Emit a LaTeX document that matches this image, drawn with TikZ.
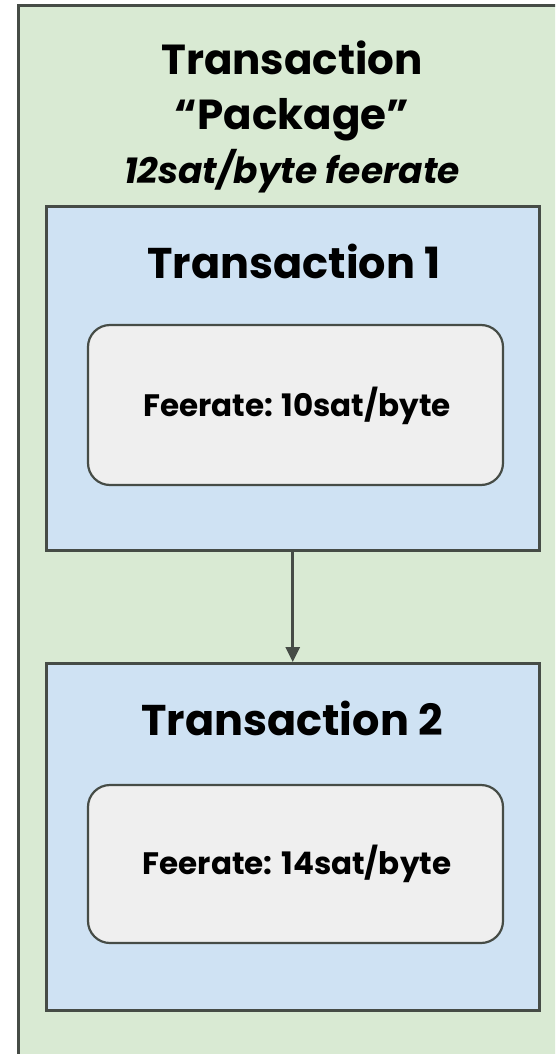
\documentclass[tikz,border=0pt]{standalone}
\usepackage{fontspec}
\setmainfont{Poppins}
\usetikzlibrary{arrows.meta}
\definecolor{pkggreen}{HTML}{D9EAD3}
\definecolor{txblue}{HTML}{CFE2F3}
\definecolor{feegray}{HTML}{EFEFEF}
\definecolor{edge}{HTML}{464C46}
\tikzset{
  pkgbox/.style={draw=edge, line width=3pt, fill=pkggreen},
  txbox/.style={draw=edge, line width=2.5pt, fill=txblue, minimum width=493pt, minimum height=344pt, inner sep=0pt, anchor=north west},
  feebox/.style={draw=edge, line width=2.2pt, fill=feegray, rounded corners=22pt, minimum width=415pt, minimum height=160pt, inner sep=0pt},
  titletext/.style={font=\fontsize{42}{48}\selectfont\bfseries, text=black, anchor=base, inner sep=0pt},
  feetext/.style={font=\fontsize{31}{36}\selectfont\bfseries, text=black, anchor=base, inner sep=0pt},
  conn/.style={draw=edge, line width=2.6pt, -{Triangle[length=15pt,width=14pt]}}
}
\begin{document}
\begin{tikzpicture}[x=1pt,y=-1pt]
\useasboundingbox (0,0) rectangle (555,1054);
\begin{scope}
\clip (0,0) rectangle (555,1054);
\draw[pkgbox] (18,6) rectangle (575,1075);
\end{scope}
\node[titletext] (t1) at (292,75) {Transaction};
\node[titletext] (t2) at (292,129) {“Package”};
\node[font=\fontsize{36}{40}\selectfont\bfseries\itshape, anchor=base, inner sep=0pt] (t3) at (292,183) {12sat/byte feerate};
\node[txbox] (tx1) at (45,205) {};
\node[txbox, minimum height=347pt] (tx2) at (45,662) {};
\node[titletext, font=\fontsize{43}{48}\selectfont\bfseries] (tx1l) at (294,278) {Transaction 1};
\node[titletext, font=\fontsize{43}{48}\selectfont\bfseries] (tx2l) at (292,735) {Transaction 2};
\node[feebox] (f1) at (295.5,405) {};
\node[feebox, minimum height=158pt] (f2) at (295.5,864) {};
\node[feetext] (f1l) at (297,416) {Feerate: 10sat/byte};
\node[feetext] (f2l) at (297,874) {Feerate: 14sat/byte};
\draw[conn] (tx1.south) -- (tx2.north);
\end{tikzpicture}
\end{document}
